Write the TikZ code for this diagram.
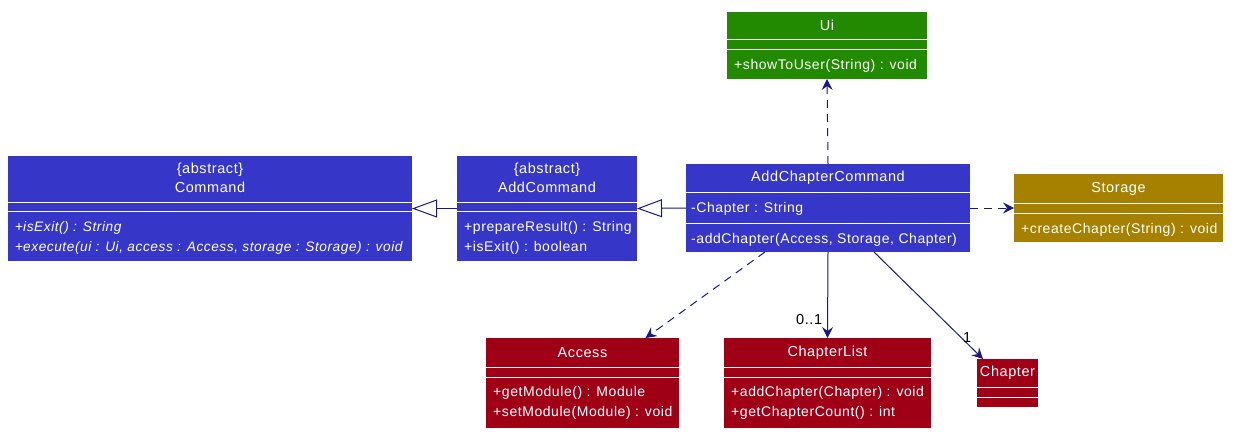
\documentclass[tikz,border=0pt]{standalone}
\usepackage{fontspec}
\usepackage{xcolor}
\usetikzlibrary{arrows.meta, calc}
\newfontfamily\umlfont{Liberation Sans}[LetterSpace=4]

\definecolor{umlblue}{RGB}{54,54,200}
\definecolor{umlgreen}{RGB}{34,138,0}
\definecolor{umlgold}{RGB}{166,129,0}
\definecolor{umlred}{RGB}{160,0,22}
\definecolor{arrowblue}{RGB}{24,24,128}

\tikzset{
  classbox/.style={rectangle, inner sep=0pt, outer sep=0pt},
  sep/.style={white, line width=1pt},
  title/.style={text=white, inner sep=0pt, font=\umlfont\fontsize{14.5}{16}\selectfont},
  member/.style={text=white, inner sep=0pt, anchor=west, font=\umlfont\fontsize{14}{16}\selectfont},
  abstractmember/.style={member, font=\umlfont\fontsize{13.7}{16}\selectfont\itshape},
  dep/.style={arrowblue, line width=1pt, dash pattern=on 8pt off 6pt, -{Stealth[length=11pt,width=11pt,inset=4pt]}},
  assoc/.style={arrowblue, line width=1pt, -{Stealth[length=11pt,width=11pt,inset=4pt]}},
  inherit/.style={arrowblue, line width=1pt, -{Triangle[open,length=25pt,width=18pt,fill=white]}},
  mult/.style={text=black, inner sep=0pt, font=\umlfont\fontsize{14.5}{16}\selectfont}
}

\begin{document}
\begin{tikzpicture}[x=1pt, y=-1pt]
\useasboundingbox (0,0) rectangle (1236,440);

% Ui
\node[classbox, fill=umlgreen, minimum width=200pt, minimum height=67pt] (ui) at (827,45.5) {};
\draw[sep] ([yshift=-27pt]ui.north west) -- ([yshift=-27pt]ui.north east);
\draw[sep] ([yshift=-37pt]ui.north west) -- ([yshift=-37pt]ui.north east);
\node[title] (ui-t) at (827,25.5) {Ui};
\node[member] (ui-m1) at (734,66) {+showToUser(String) : void};

% Command
\node[classbox, fill=umlblue, minimum width=404pt, minimum height=105pt] (cmd) at (210,208.5) {};
\draw[sep] ([yshift=-46pt]cmd.north west) -- ([yshift=-46pt]cmd.north east);
\draw[sep] ([yshift=-55pt]cmd.north west) -- ([yshift=-55pt]cmd.north east);
\node[title] (cmd-s) at (210,170) {\{abstract\}};
\node[title] (cmd-t) at (210,187) {Command};
\node[abstractmember] (cmd-m1) at (15,228) {{\upshape +}isExit() : String};
\node[abstractmember] (cmd-m2) at (15,248) {{\upshape +}execute(ui : Ui, access : Access, storage : Storage) : void};

% AddCommand
\node[classbox, fill=umlblue, minimum width=180pt, minimum height=105pt] (addc) at (547,208.5) {};
\draw[sep] ([yshift=-46pt]addc.north west) -- ([yshift=-46pt]addc.north east);
\draw[sep] ([yshift=-55pt]addc.north west) -- ([yshift=-55pt]addc.north east);
\node[title] (addc-s) at (547,170) {\{abstract\}};
\node[title] (addc-t) at (547,187) {AddCommand};
\node[member] (addc-m1) at (464,228) {+prepareResult() : String};
\node[member] (addc-m2) at (464,248) {+isExit() : boolean};

% AddChapterCommand
\node[classbox, fill=umlblue, minimum width=284pt, minimum height=88pt] (acc) at (828,208) {};
\draw[sep] ([yshift=-28pt]acc.north west) -- ([yshift=-28pt]acc.north east);
\draw[sep] ([yshift=-59pt]acc.north west) -- ([yshift=-59pt]acc.north east);
\node[title] (acc-t) at (828,178) {AddChapterCommand};
\node[member] (acc-a1) at (691,209) {-Chapter : String};
\node[member] (acc-m1) at (691,240) {-addChapter(Access, Storage, Chapter)};

% Storage
\node[classbox, fill=umlgold, minimum width=209pt, minimum height=68pt] (sto) at (1118.5,208) {};
\draw[sep] ([yshift=-29pt]sto.north west) -- ([yshift=-29pt]sto.north east);
\draw[sep] ([yshift=-39pt]sto.north west) -- ([yshift=-39pt]sto.north east);
\node[title] (sto-t) at (1118.5,188.5) {Storage};
\node[member] (sto-m1) at (1021,230) {+createChapter(String) : void};

% Access
\node[classbox, fill=umlred, minimum width=193pt, minimum height=90pt] (acs) at (582.5,383) {};
\draw[sep] ([yshift=-29pt]acs.north west) -- ([yshift=-29pt]acs.north east);
\draw[sep] ([yshift=-39pt]acs.north west) -- ([yshift=-39pt]acs.north east);
\node[title] (acs-t) at (582.5,352.5) {Access};
\node[member] (acs-m1) at (493,393) {+getModule() : Module};
\node[member] (acs-m2) at (493,413) {+setModule(Module) : void};

% ChapterList
\node[classbox, fill=umlred, minimum width=207pt, minimum height=90pt] (cl) at (827.5,383) {};
\draw[sep] ([yshift=-29pt]cl.north west) -- ([yshift=-29pt]cl.north east);
\draw[sep] ([yshift=-39pt]cl.north west) -- ([yshift=-39pt]cl.north east);
\node[title] (cl-t) at (827.5,352.5) {ChapterList};
\node[member] (cl-m1) at (731,393) {+addChapter(Chapter) : void};
\node[member] (cl-m2) at (731,413) {+getChapterCount() : int};

% Chapter
\node[classbox, fill=umlred, minimum width=61pt, minimum height=48pt] (chap) at (1007.5,383) {};
\draw[sep] ([yshift=-28pt]chap.north west) -- ([yshift=-28pt]chap.north east);
\draw[sep] ([yshift=-38pt]chap.north west) -- ([yshift=-38pt]chap.north east);
\node[title] (chap-t) at (1007.5,373) {Chapter};

% connectors
\draw[inherit] (addc.west) -- (cmd.east);
\draw[inherit] (acc.west) -- (addc.east);
\draw[dep] (acc.north) -- (ui.south);
\draw[dep] (acc.east) -- (sto.west);
\draw[dep] ([xshift=-63pt]acc.south) -- ([xshift=63pt]acs.north);
\draw[assoc] (acc.south) -- (cl.north) node[mult, pos=0.78, left=5pt] (m01) {0..1};
\draw[assoc] ([xshift=46pt]acc.south) -- ([xshift=6pt]chap.north west) node[mult, pos=0.8, xshift=6pt] (m1) {1};

\end{tikzpicture}
\end{document}
